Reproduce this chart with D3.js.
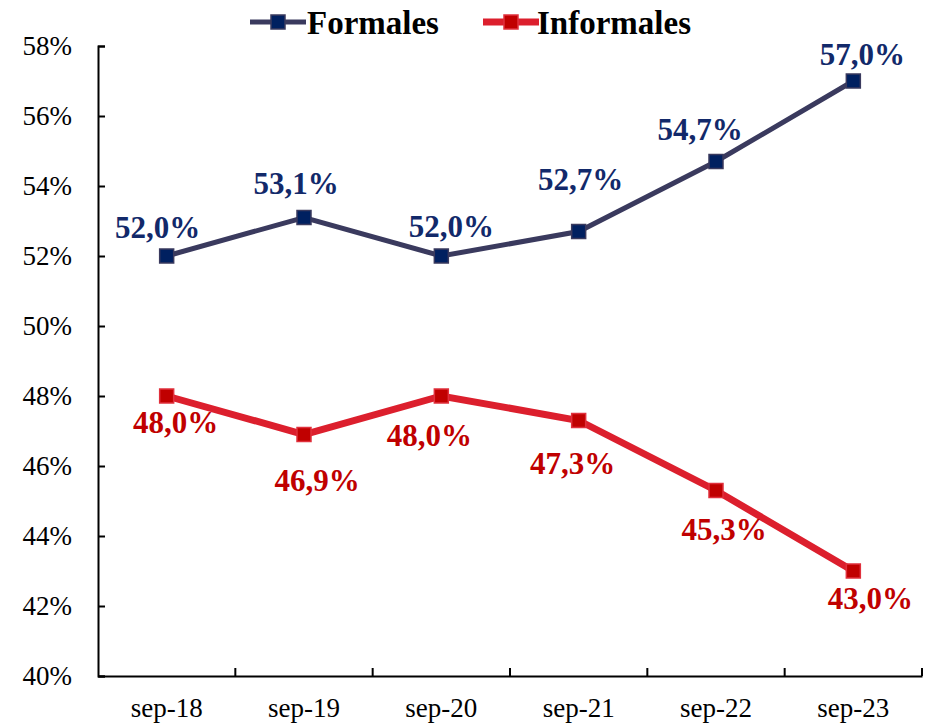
<!DOCTYPE html>
<html><head><meta charset="utf-8">
<script src="https://cdn.jsdelivr.net/npm/d3@7"></script>
<style>body{margin:0;background:#fff}</style>
</head><body>
<svg id="c" width="930" height="725"></svg>
<script>
const categories = ["sep-18","sep-19","sep-20","sep-21","sep-22","sep-23"];
const formales = [52.0, 53.1, 52.0, 52.7, 54.7, 57.0];
const informales = [48.0, 46.9, 48.0, 47.3, 45.3, 43.0];
const yTicks = [40,42,44,46,48,50,52,54,56,58];
const seriesNames = ["Formales","Informales"];
// label nudges relative to each point (layout only)
const formalesNudge = [[-9,-29],[-8,-34],[10,-30],[2,-52],[-16,-32],[9,-27]];
const informalesNudge = [[9,26],[13,46],[-12,39],[-6,43],[8,39],[17,27]];

(function(){
const svg = d3.select("#c");
const mLeft = 98, mRight = 922, mTop = 46, mBottom = 676;
const x = d3.scaleBand().domain(categories).range([mLeft, mRight]);
const y = d3.scaleLinear().domain([40, 58]).range([mBottom, mTop]);
const serif = "'Liberation Serif', 'DejaVu Serif', serif";

const yAxis = d3.axisLeft(y).tickValues(yTicks).tickSize(-7).tickPadding(26)
  .tickFormat(d => d + "%");
const gy = svg.append("g").attr("transform", `translate(${mLeft},0)`).call(yAxis);
gy.select(".domain").attr("stroke", "#000").attr("stroke-width", 2);
gy.selectAll(".tick line").attr("stroke", "#000").attr("stroke-width", 2);
gy.selectAll(".tick text").attr("font-family", serif).attr("font-size", 27).attr("fill", "#000");

const gx = svg.append("g").attr("transform", `translate(0,${mBottom})`)
  .call(d3.axisBottom(x).tickSize(0).tickSizeOuter(0).tickPadding(22));
gx.select(".domain").attr("stroke", "#000").attr("stroke-width", 2);
gx.selectAll(".tick text").attr("font-family", serif).attr("font-size", 27).attr("fill", "#000");
const bounds = categories.slice(1).map(c => x(c)).concat([mRight]);
svg.append("g").selectAll("line").data(bounds).join("line")
  .attr("x1", d => d).attr("x2", d => d).attr("y1", mBottom).attr("y2", mBottom - 8)
  .attr("stroke", "#000").attr("stroke-width", 2);

const cx = c => x(c) + x.bandwidth() / 2;
const series = [
  {name: seriesNames[0], data: formales, nudge: formalesNudge, line: "#3a3a5e", lw: 5, mfill: "#002060", mstroke: "#3a3a5e", label: "#12296a"},
  {name: seriesNames[1], data: informales, nudge: informalesNudge, line: "#dc1f2d", lw: 7, mfill: "#c00000", mstroke: "#e0303c", label: "#c00000"}
];
const fmt = v => v.toFixed(1).replace(".", ",") + "%";

series.forEach(s => {
  const pts = categories.map((c, i) => [cx(c), y(s.data[i])]);
  svg.append("path").attr("d", d3.line()(pts)).attr("fill", "none")
    .attr("stroke", s.line).attr("stroke-width", s.lw).attr("stroke-linejoin", "miter");
  svg.append("g").selectAll("rect").data(pts).join("rect")
    .attr("x", d => d[0] - 7).attr("y", d => d[1] - 7).attr("width", 14).attr("height", 14)
    .attr("fill", s.mfill).attr("stroke", s.mstroke).attr("stroke-width", 1.5);
  svg.append("g").selectAll("text").data(pts).join("text")
    .attr("x", (d, i) => d[0] + s.nudge[i][0]).attr("y", (d, i) => d[1] + s.nudge[i][1]).attr("dy", "0.35em")
    .attr("text-anchor", "middle").attr("font-family", serif).attr("font-weight", "bold")
    .attr("font-size", 31).attr("fill", s.label)
    .text((d, i) => fmt(s.data[i]));
});

const legX = [250, 483];
series.forEach((s, i) => {
  const g = svg.append("g").attr("transform", `translate(${legX[i]},22)`);
  g.append("line").attr("x1", 0).attr("x2", 56).attr("y1", 0).attr("y2", 0)
    .attr("stroke", s.line).attr("stroke-width", s.lw);
  g.append("rect").attr("x", 21).attr("y", -7).attr("width", 14).attr("height", 14)
    .attr("fill", s.mfill).attr("stroke", s.mstroke).attr("stroke-width", 1.5);
  g.append("text").attr("x", i === 0 ? 57 : 54).attr("y", 0).attr("dy", "0.35em")
    .attr("font-family", serif).attr("font-weight", "bold").attr("font-size", 33)
    .attr("fill", "#000").text(s.name);
});
})();
</script>
</body></html>
